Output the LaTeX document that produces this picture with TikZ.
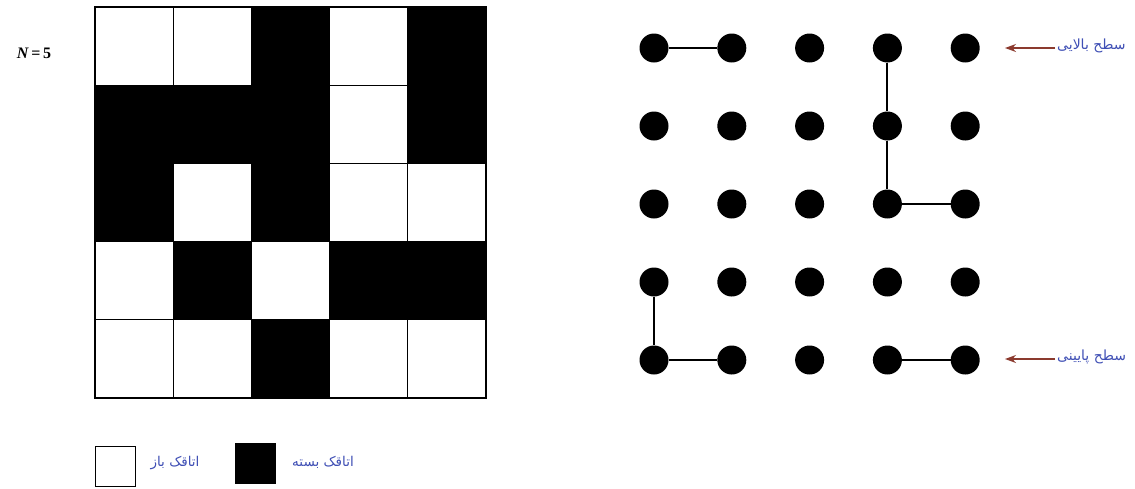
\documentclass[tikz,border=0pt]{standalone}
\usepackage{fontspec}
\newfontfamily\arabicfont[Script=Arabic]{DejaVu Sans}
\newfontfamily\timesfont{Liberation Serif}
\TeXXeTstate=1
\usetikzlibrary{arrows.meta}
\definecolor{labblue}{HTML}{3F4FB5}
\definecolor{arrbrown}{HTML}{8B3A2E}
\tikzset{
  cell/.style={draw=black,line width=1.2pt,minimum size=78.2pt,inner sep=0pt,outer sep=0pt},
  open/.style={cell,fill=white},
  closed/.style={cell,fill=black},
  dot/.style={circle,fill=black,minimum size=29pt,inner sep=0pt},
  bond/.style={line width=2pt},
  flabel/.style={font=\arabicfont\fontsize{13.5}{15}\selectfont,text=labblue,inner sep=1pt},
  slabel/.style={flabel,font=\arabicfont\fontsize{14}{16}\selectfont},
  ptr/.style={-{Stealth[length=11pt,width=8pt]},draw=arrbrown,line width=1.3pt},
  legbox/.style={draw=black,line width=1pt,minimum size=40pt,inner sep=0pt},
  nstyle/.style={font=\timesfont\bfseries\fontsize{16}{18}\selectfont}
}
\begin{document}
\begin{tikzpicture}[x=1pt,y=-1pt]
\useasboundingbox (0,0) rectangle (1135,488);
\fill[white] (0,0) rectangle (1135,488);
\node[nstyle] (nlab) at (34,53) {\textit{N}\,=\,5};
\def\gx{95}
\def\gy{7}
\def\cs{78.2}
\foreach \r/\row in {1/{0,0,1,0,1},2/{1,1,1,0,1},3/{1,0,1,0,0},4/{0,1,0,1,1},5/{0,0,1,0,0}}{
  \foreach \v [count=\c] in \row {
    \ifnum\v=1
      \node[closed] (c-\r-\c) at ({\gx+(\c-0.5)*\cs},{\gy+(\r-0.5)*\cs}) {};
    \else
      \node[open] (c-\r-\c) at ({\gx+(\c-0.5)*\cs},{\gy+(\r-0.5)*\cs}) {};
    \fi
  }
}
\foreach \r in {1,...,5}{
  \foreach \c in {1,...,5}{
    \node[dot] (d-\r-\c) at ({654+(\c-1)*77.8},{48+(\r-1)*78}) {};
  }
}
\draw[bond] (d-1-1) -- (d-1-2);
\draw[bond] (d-1-4) -- (d-2-4);
\draw[bond] (d-2-4) -- (d-3-4);
\draw[bond] (d-3-4) -- (d-3-5);
\draw[bond] (d-4-1) -- (d-5-1);
\draw[bond] (d-5-1) -- (d-5-2);
\draw[bond] (d-5-4) -- (d-5-5);
\node[slabel,anchor=west] (top) at (1056,46) {\beginR سطح بالایی\endR};
\node[slabel,anchor=west] (bot) at (1056,357) {\beginR سطح پایینی\endR};
\coordinate (ta) at (1005,48);
\coordinate (ba) at (1005,359);
\draw[ptr] ([xshift=-1pt]top.west |- ta) -- (ta);
\draw[ptr] ([xshift=-1pt]bot.west |- ba) -- (ba);
\node[legbox,fill=white] (lopen) at (115,466) {};
\node[flabel] (lopentxt) at (175,463) {\beginR اتاقک باز\endR};
\node[legbox,fill=black] (lclosed) at (255,463) {};
\node[flabel] (lclosedtxt) at (323,462) {\beginR اتاقک بسته\endR};
\end{tikzpicture}
\end{document}
